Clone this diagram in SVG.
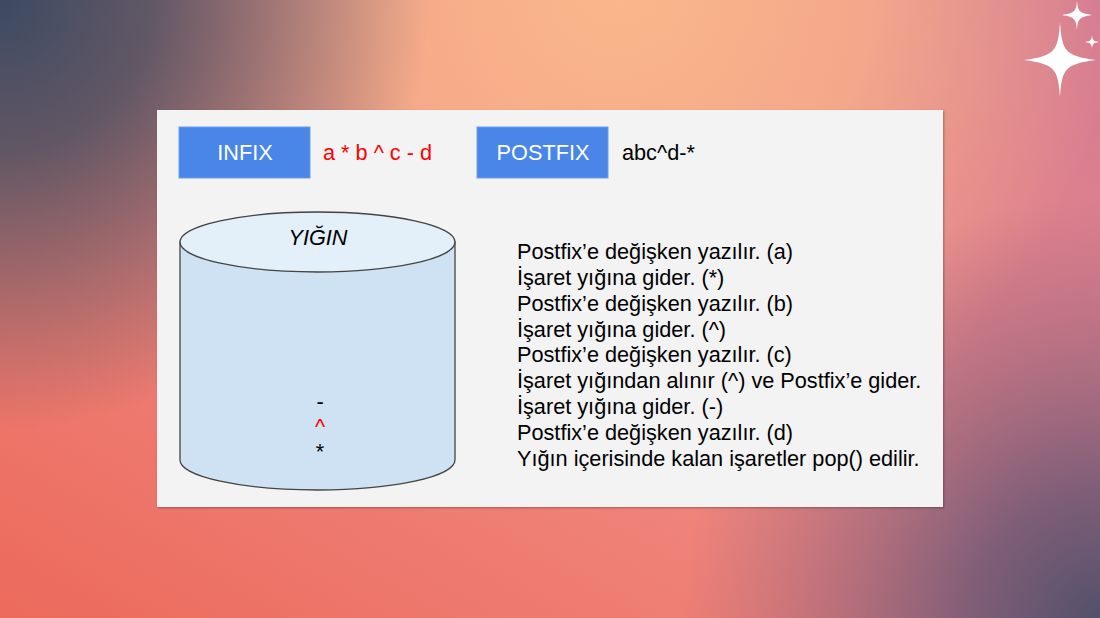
<svg xmlns="http://www.w3.org/2000/svg" width="1100" height="618" viewBox="0 0 1100 618">
<defs>
<linearGradient id="base" x1="0" y1="1" x2="1" y2="0">
<stop offset="0" stop-color="#ec6a5c"/>
<stop offset="0.5" stop-color="#f08a82"/>
<stop offset="1" stop-color="#d27a94"/>
</linearGradient>
<radialGradient id="peach" cx="620" cy="-20" r="500" gradientUnits="userSpaceOnUse">
<stop offset="0" stop-color="#fbb88a" stop-opacity="1"/>
<stop offset="0.5" stop-color="#f9b28a" stop-opacity="0.8"/>
<stop offset="1" stop-color="#f9b28a" stop-opacity="0"/>
</radialGradient>
<radialGradient id="tl" cx="0" cy="0" r="430" gradientUnits="userSpaceOnUse">
<stop offset="0" stop-color="#3c4a62" stop-opacity="1"/>
<stop offset="0.35" stop-color="#484e60" stop-opacity="0.85"/>
<stop offset="1" stop-color="#4a4e60" stop-opacity="0"/>
</radialGradient>
<radialGradient id="br" cx="1100" cy="618" r="420" gradientUnits="userSpaceOnUse">
<stop offset="0" stop-color="#53506a" stop-opacity="1"/>
<stop offset="0.3" stop-color="#6b5675" stop-opacity="0.85"/>
<stop offset="1" stop-color="#8a5a80" stop-opacity="0"/>
</radialGradient>
<filter id="sh" x="-5%" y="-5%" width="110%" height="110%">
<feDropShadow dx="1" dy="1" stdDeviation="1" flood-color="#000" flood-opacity="0.3"/>
</filter>
<style>
.t{font-family:"Liberation Sans",Arial,sans-serif;font-size:21.7px;fill:#000}
.btn{fill:#4a86e8;stroke:#6d9eeb;stroke-width:1}
.bt{font-family:"Liberation Sans",Arial,sans-serif;font-size:21.7px;fill:#fff;text-anchor:middle}
.red{fill:#ff0000}
.cyl{stroke:#444;stroke-width:1.3}
.star{fill:#fff}
</style>
</defs>
<g id="background">
<rect width="1100" height="618" fill="url(#base)"/>
<rect width="1100" height="618" fill="url(#peach)"/>
<rect width="1100" height="618" fill="url(#tl)"/>
<rect width="1100" height="618" fill="url(#br)"/>
</g>
<g id="sparkles">
<path class="star" d="M1060,22 C1062,50 1064,56 1096,60 C1064,64 1062,70 1060,97 C1058,70 1056,64 1024,60 C1056,56 1058,50 1060,22 Z"/>
<path class="star" d="M1077,1 C1078,11 1079,13 1092,15 C1079,17 1078,19 1077,30 C1076,19 1075,17 1062,15 C1075,13 1076,11 1077,1 Z"/>
<path class="star" d="M1092,35 C1092.5,40 1093,41 1099,42 C1093,43 1092.5,44 1092,49 C1091.5,44 1091,43 1085,42 C1091,41 1091.5,40 1092,35 Z"/>
</g>
<g id="panel">
<rect x="157" y="110" width="786" height="397" fill="#f3f3f3" filter="url(#sh)"/>
</g>
<g id="infix">
<rect class="btn" x="179" y="127" width="131" height="51"/>
<text class="bt" x="245" y="160">INFIX</text>
<text class="t red" x="323" y="160">a * b ^ c - d</text>
</g>
<g id="postfix">
<rect class="btn" x="477" y="127" width="131" height="51"/>
<text class="bt" x="543" y="160">POSTFIX</text>
<text class="t" x="622" y="160">abc^d-*</text>
</g>
<g id="stack">
<path class="cyl" fill="#cfe2f3" d="M180,242 L180,460 A137.5,30 0 0 0 455,460 L455,242 Z"/>
<ellipse class="cyl" cx="317.5" cy="242" rx="137.5" ry="30" fill="#e3eff9"/>
<text class="t" x="318" y="245" text-anchor="middle" font-style="italic">YIĞIN</text>
<text class="t" x="320" y="409" text-anchor="middle" font-size="19">-</text>
<text class="t red" x="320" y="434" text-anchor="middle" font-size="19">^</text>
<text class="t" x="320" y="459" text-anchor="middle" font-size="19">*</text>
</g>
<g id="steps">
<text class="t" x="517" y="259">Postfix’e değişken yazılır. (a)</text>
<text class="t" x="517" y="285">İşaret yığına gider. (*)</text>
<text class="t" x="517" y="311">Postfix’e değişken yazılır. (b)</text>
<text class="t" x="517" y="337">İşaret yığına gider. (^)</text>
<text class="t" x="517" y="362">Postfix’e değişken yazılır. (c)</text>
<text class="t" x="517" y="388">İşaret yığından alınır (^) ve Postfix’e gider.</text>
<text class="t" x="517" y="414">İşaret yığına gider. (-)</text>
<text class="t" x="517" y="440">Postfix’e değişken yazılır. (d)</text>
<text class="t" x="517" y="466">Yığın içerisinde kalan işaretler pop() edilir.</text>
</g>
</svg>
